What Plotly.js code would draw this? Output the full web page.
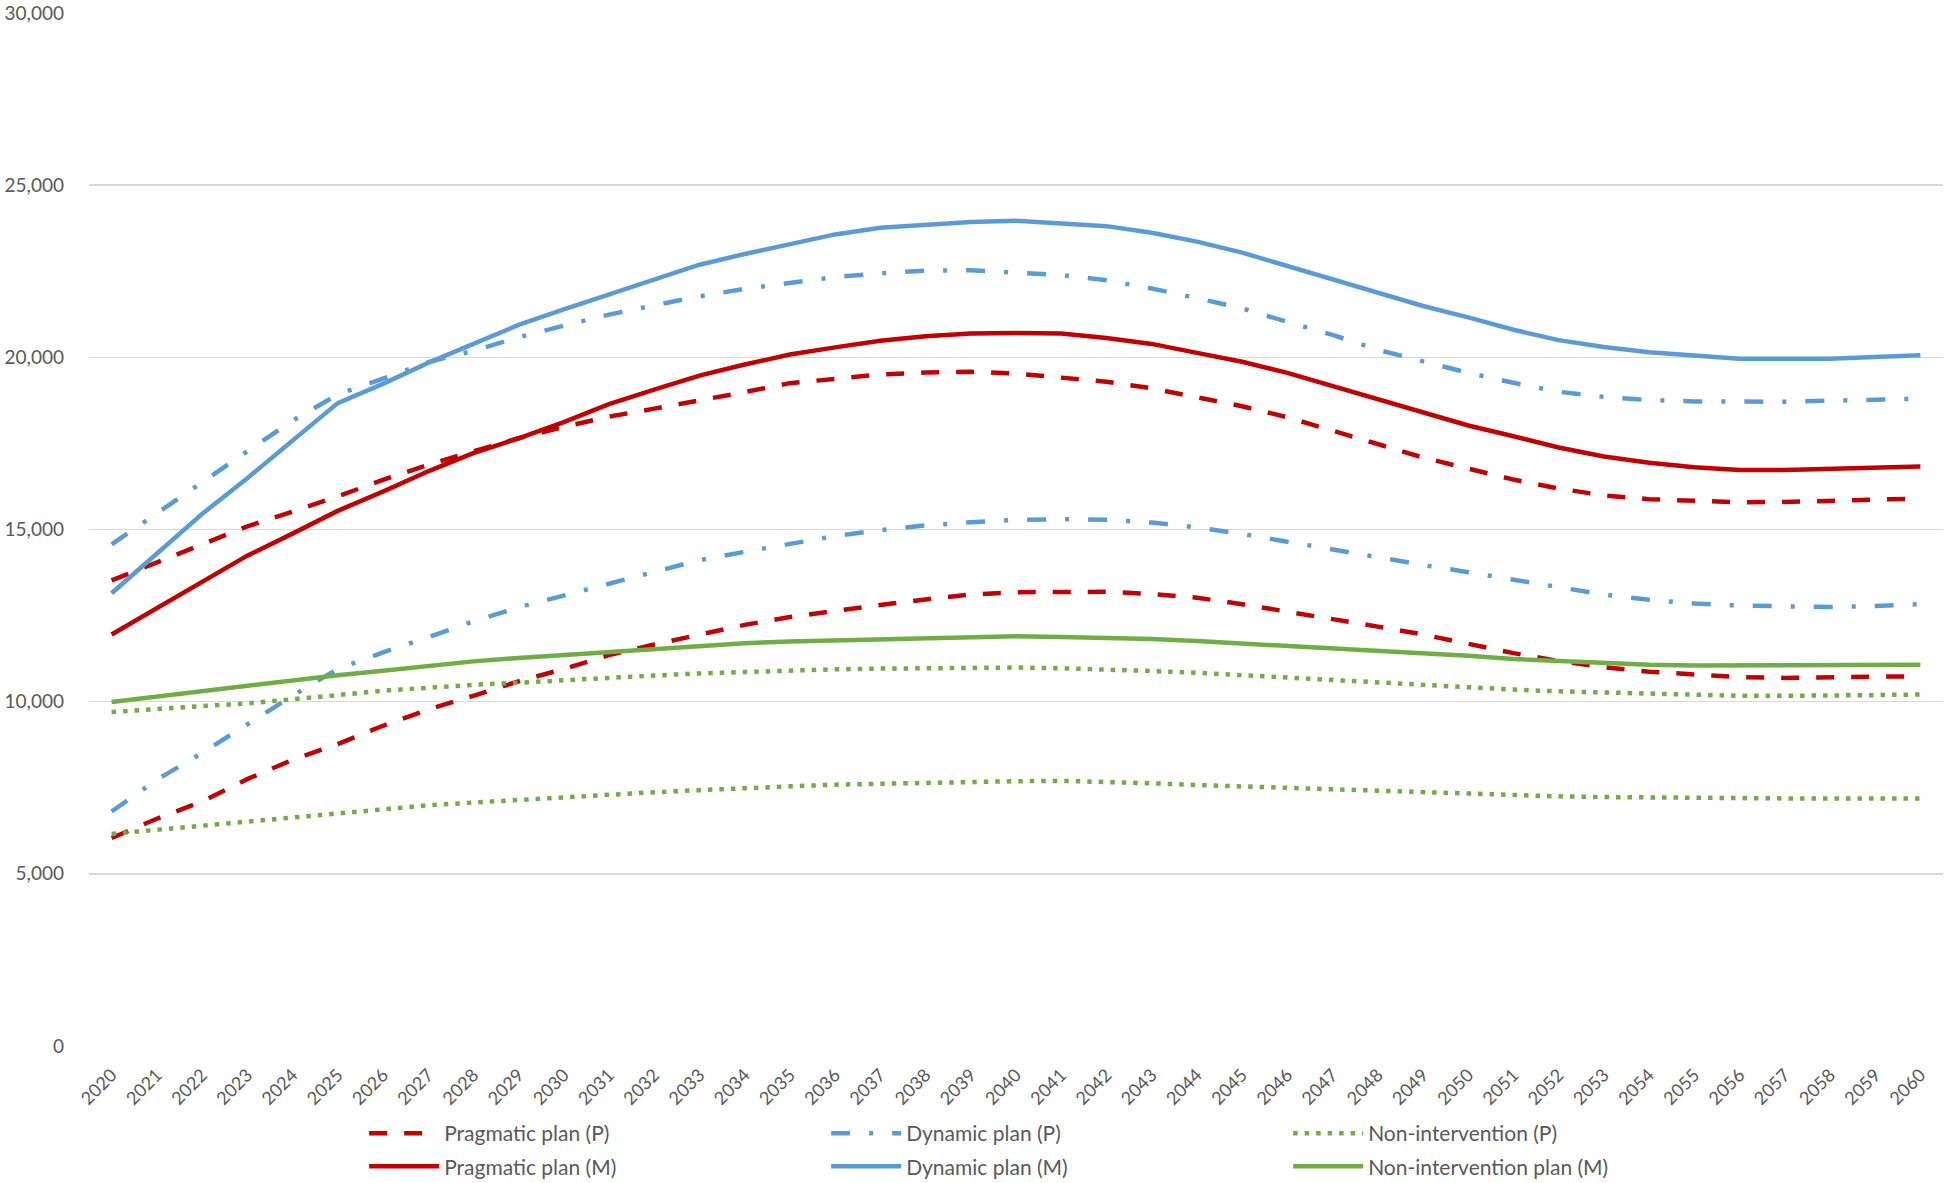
<!DOCTYPE html>
<html>
<head>
<meta charset="utf-8">
<script src="https://cdn.plot.ly/plotly-3.0.1.min.js"></script>
<style>
  html, body { margin: 0; padding: 0; background: #ffffff; }
  #chart { width: 1946px; height: 1183px; }
</style>
</head>
<body>
<div id="chart"></div>
<script>
const years = ["2020","2021","2022","2023","2024","2025","2026","2027","2028","2029",
  "2030","2031","2032","2033","2034","2035","2036","2037","2038","2039",
  "2040","2041","2042","2043","2044","2045","2046","2047","2048","2049",
  "2050","2051","2052","2053","2054","2055","2056","2057","2058","2059","2060"];

const pragmaticP_high = [13520,14050,14590,15090,15520,15960,16440,16880,17270,17650,
  17980,18280,18510,18740,18990,19250,19380,19500,19560,19580,
  19530,19420,19290,19100,18840,18580,18260,17870,17480,17090,
  16770,16450,16190,15990,15880,15830,15790,15800,15830,15870,15900];
const pragmaticP_low = [6040,6600,7100,7750,8310,8770,9300,9770,10170,10590,
  10950,11350,11660,11960,12230,12460,12650,12810,12970,13110,
  13180,13190,13190,13130,13020,12830,12620,12400,12180,11950,
  11670,11410,11180,11000,10870,10780,10710,10690,10700,10720,10740];
const dynamicP_high = [14570,15470,16400,17270,18160,18920,19380,19860,20190,20580,
  20920,21240,21510,21770,21990,22170,22330,22440,22520,22530,
  22460,22390,22240,22000,21720,21420,21030,20650,20220,19870,
  19550,19260,19000,18850,18760,18720,18700,18710,18740,18770,18800];
const dynamicP_low = [6810,7730,8510,9340,10170,10950,11430,11870,12330,12740,
  13080,13430,13790,14110,14350,14580,14810,14980,15120,15210,
  15280,15300,15280,15200,15060,14870,14640,14410,14190,13970,
  13760,13540,13320,13110,12960,12850,12790,12760,12750,12780,12830];
const nonInterventionP_high = [9700,9800,9870,9950,10060,10190,10320,10420,10490,10550,
  10630,10690,10760,10820,10870,10910,10940,10960,10980,10990,
  10990,10970,10940,10890,10840,10770,10700,10620,10540,10470,
  10400,10350,10300,10260,10220,10190,10170,10170,10170,10190,10210];
const nonInterventionP_low = [6160,6280,6380,6500,6640,6760,6880,6990,7070,7150,
  7220,7300,7370,7430,7500,7540,7590,7620,7650,7670,
  7690,7700,7680,7630,7580,7540,7500,7450,7400,7350,
  7310,7280,7250,7230,7210,7200,7200,7190,7190,7190,7190];
const pragmaticM = [11950,12710,13480,14240,14880,15540,16100,16690,17220,17650,
  18120,18640,19060,19470,19790,20080,20290,20480,20610,20690,
  20710,20690,20560,20390,20130,19870,19550,19160,18770,18380,
  18020,17710,17380,17120,16940,16810,16730,16730,16760,16800,16830];
const dynamicM = [13150,14300,15450,16490,17600,18670,19230,19840,20390,20940,
  21390,21820,22260,22690,23000,23300,23570,23760,23860,23930,
  23970,23900,23810,23620,23360,23040,22650,22260,21870,21490,
  21160,20800,20500,20300,20150,20040,19960,19960,19960,20010,20060];
const nonInterventionM = [9990,10150,10300,10470,10620,10770,10900,11050,11170,11270,
  11360,11460,11550,11630,11700,11750,11780,11810,11840,11880,
  11900,11880,11860,11820,11760,11690,11630,11560,11500,11430,
  11330,11240,11180,11110,11070,11050,11050,11050,11050,11050,11070];

const legendNames = ["Pragmatic plan (P)","Dynamic plan (P)","Non-intervention (P)",
  "Pragmatic plan (M)","Dynamic plan (M)","Non-intervention plan (M)"];

const RED = "#C00000", BLUE = "#5B9BD5", GREEN = "#70AD47";
const W = 4.5;
const DASH = "18px,17px";
const DASHDOT = "19px,19px,4px,19px";
const DOT = "4.5px,7px";

function tr(y, name, color, dash, legend, show, group) {
  return {
    type: "scatter", mode: "lines", x: years, y: y, name: name,
    line: { color: color, width: W, dash: dash },
    legend: legend, showlegend: show, legendgroup: group,
    hoverinfo: "skip"
  };
}

const data = [
  tr(pragmaticP_high, legendNames[0], RED, DASH, "legend", true, "pp"),
  tr(pragmaticP_low, legendNames[0], RED, DASH, "legend", false, "pp"),
  tr(dynamicP_high, legendNames[1], BLUE, DASHDOT, "legend", true, "dp"),
  tr(dynamicP_low, legendNames[1], BLUE, DASHDOT, "legend", false, "dp"),
  tr(nonInterventionP_high, legendNames[2], GREEN, DOT, "legend", true, "np"),
  tr(nonInterventionP_low, legendNames[2], GREEN, DOT, "legend", false, "np"),
  tr(pragmaticM, legendNames[3], RED, "solid", "legend2", true, "pm"),
  tr(dynamicM, legendNames[4], BLUE, "solid", "legend2", true, "dm"),
  tr(nonInterventionM, legendNames[5], GREEN, "solid", "legend2", true, "nm")
];

const FONT = "Lato, 'Open Sans', 'Liberation Sans', sans-serif";
const TXT = "#595959";

function leg(y) {
  return {
    orientation: "h", x: 0.1484, xanchor: "left", y: y, yanchor: "middle",
    itemwidth: 70, entrywidth: 377, entrywidthmode: "pixels",
    font: { family: FONT, size: 21, color: TXT },
    bgcolor: "rgba(0,0,0,0)", borderwidth: 0, traceorder: "normal",
    itemclick: false, itemdoubleclick: false
  };
}

const layout = {
  width: 1946, height: 1183,
  margin: { l: 89, r: 3, t: 13, b: 137, autoexpand: false },
  paper_bgcolor: "#ffffff", plot_bgcolor: "#ffffff",
  font: { family: FONT, size: 19, color: TXT },
  showlegend: true,
  xaxis: {
    type: "category", range: [-0.5, 40.5],
    tickangle: -45, showgrid: false, zeroline: false, showline: false,
    ticks: "", ticklabelstandoff: 14, automargin: false,
    tickfont: { family: FONT, size: 18, color: TXT },
    fixedrange: true
  },
  yaxis: {
    range: [0, 30000], dtick: 5000, tickformat: ",d",
    showgrid: true, gridcolor: "#D9D9D9", gridwidth: 1.5,
    zeroline: false, showline: false, ticks: "", automargin: false,
    ticklabelstandoff: 24,
    tickfont: { family: FONT, size: 19, color: TXT },
    fixedrange: true
  },
  legend: leg(-0.0848),
  legend2: leg(-0.1168)
};

Plotly.newPlot("chart", data, layout, { displayModeBar: false, staticPlot: true });
</script>
</body>
</html>
